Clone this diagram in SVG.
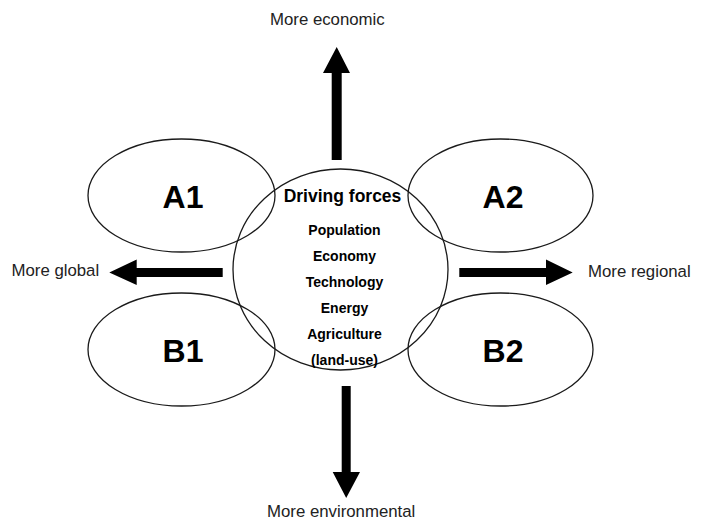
<svg xmlns="http://www.w3.org/2000/svg" width="711" height="521" viewBox="0 0 711 521">
<style>
.shape{fill:none;stroke:#1a1a1a;stroke-width:1.3}
.big{font-family:"Liberation Sans",Arial,sans-serif;font-weight:bold;font-size:32px;fill:#000;text-anchor:middle}
.title{font-family:"Liberation Sans",Arial,sans-serif;font-weight:bold;font-size:17.5px;fill:#000;text-anchor:middle}
.item{font-family:"Liberation Sans",Arial,sans-serif;font-weight:bold;font-size:14px;fill:#000;text-anchor:middle}
.lbl{font-family:"Liberation Sans",Arial,sans-serif;font-size:16.8px;fill:#222}
.arrow{fill:#000;stroke:none}
</style>
<rect width="711" height="521" fill="#fff"/>
<g id="A1"><ellipse class="shape" cx="181.5" cy="195.5" rx="93.5" ry="56.5"/><text class="big" x="183" y="208">A1</text></g>
<g id="A2"><ellipse class="shape" cx="500.5" cy="195.5" rx="92.5" ry="56.5"/><text class="big" x="503" y="208">A2</text></g>
<g id="B1"><ellipse class="shape" cx="181.5" cy="349.5" rx="93.5" ry="56.5"/><text class="big" x="183" y="362">B1</text></g>
<g id="B2"><ellipse class="shape" cx="500.5" cy="349.5" rx="92.5" ry="56.5"/><text class="big" x="503" y="362">B2</text></g>
<g id="driving-forces">
<ellipse class="shape" cx="340.5" cy="269.5" rx="107.5" ry="100.5"/>
<text class="title" x="342.5" y="202">Driving forces</text>
<text class="item" x="344.5" y="235">Population</text>
<text class="item" x="344.5" y="261">Economy</text>
<text class="item" x="344.5" y="287">Technology</text>
<text class="item" x="344.5" y="313">Energy</text>
<text class="item" x="344.5" y="339">Agriculture</text>
<text class="item" x="344.5" y="365">(land-use)</text>
</g>
<g id="connectors">
<polygon class="arrow" points="331.7,160 341.7,160 341.7,73 350,73 336.7,47 323,73 331.7,73"/>
<polygon class="arrow" points="341.7,386 350.7,386 350.7,472 360,472 346.2,498 332.7,472 341.7,472"/>
<polygon class="arrow" points="222.7,268 222.7,277 136.7,277 136.7,285 109.3,272.5 136.7,259.5 136.7,268"/>
<polygon class="arrow" points="459.3,268 459.3,277 546,277 546,285 572.7,272.5 546,259.5 546,268"/>
</g>
<g id="labels">
<text class="lbl" x="270" y="25">More economic</text>
<text class="lbl" x="11.5" y="275.5">More global</text>
<text class="lbl" x="588" y="277">More regional</text>
<text class="lbl" x="267" y="517">More environmental</text>
</g>
</svg>
